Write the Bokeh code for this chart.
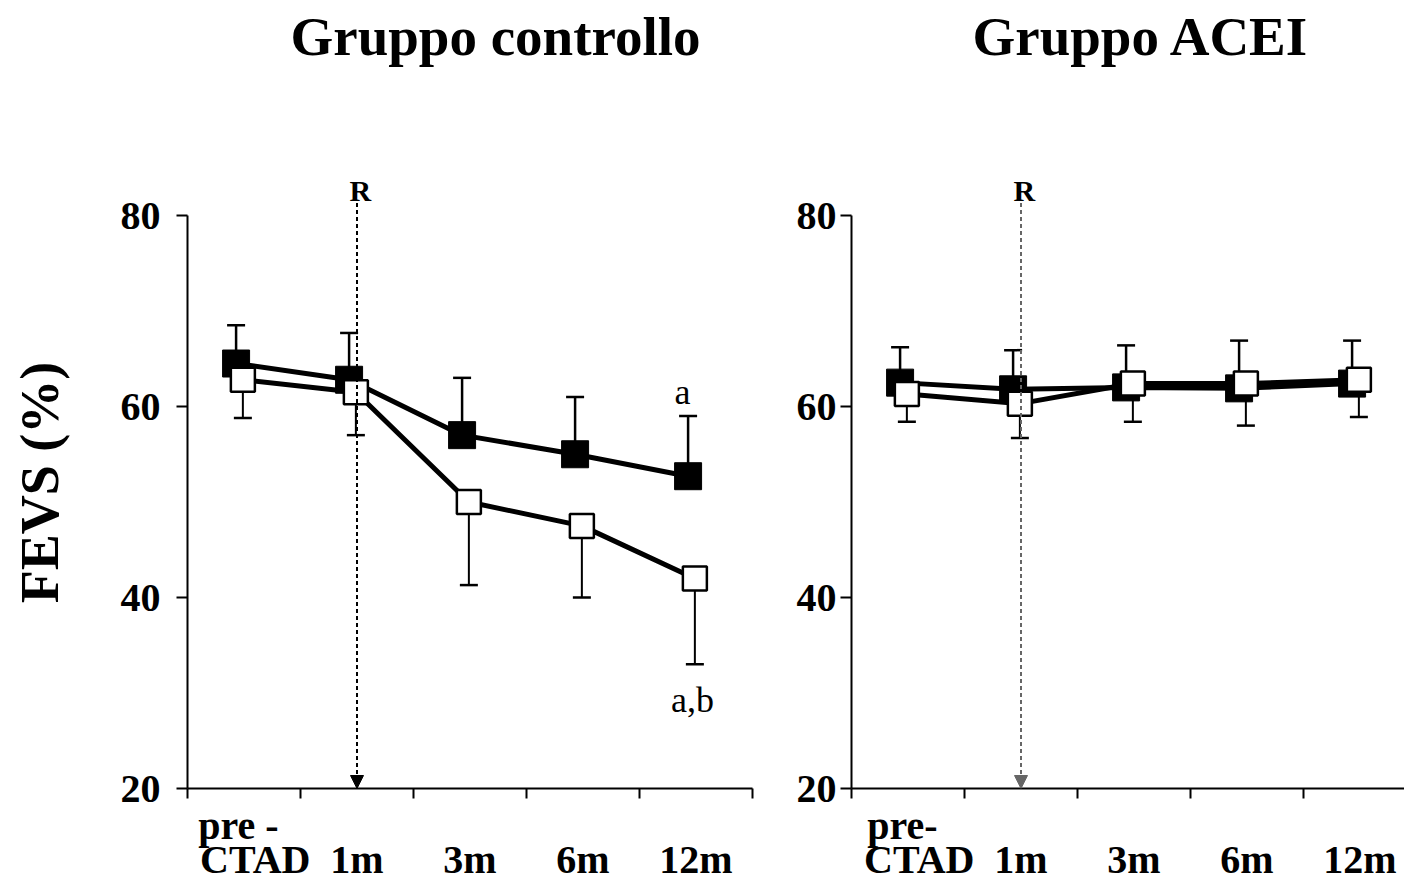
from bokeh.plotting import figure
from bokeh.layouts import row, column
from bokeh.models import Range1d, FixedTicker, LinearAxis, Arrow, NormalHead
from bokeh.core.properties import value
from bokeh.embed import file_html
from bokeh.resources import INLINE

# ---------------- data ----------------
categories = ["pre-CTAD", "1m", "3m", "6m", "12m"]
cat_pos = [0.5, 1.5, 2.5, 3.5, 4.5]
y_ticks = [20, 40, 60, 80]

ctrl_black = [64.5, 62.8, 57.0, 55.0, 52.7]
ctrl_black_up = [68.5, 67.7, 63.0, 61.0, 59.0]
ctrl_white = [62.8, 61.5, 50.0, 47.5, 42.0]
ctrl_white_down = [58.8, 57.0, 41.3, 40.0, 33.0]

acei_black = [62.5, 61.8, 62.0, 61.9, 62.4]
acei_black_up = [66.2, 65.9, 66.4, 66.9, 66.9]
acei_white = [61.3, 60.3, 62.4, 62.4, 62.8]
acei_white_down = [58.4, 56.7, 58.4, 58.0, 58.9]

titles = ["Gruppo controllo", "Gruppo ACEI"]
pre_labels = ["pre -", "pre-"]
sig_labels = ["a", "a,b"]
r_label = "R"
r_pos = 1.5

FONT = "Liberation Serif"
PXU = 573 / 60.0  # px per y unit
XU = 113.0       # px per x unit
FRAME_H = 612
Y_TOP = 20 + FRAME_H / PXU
TITLE_H = 80


def make_title(text, frame_w, border_left, border_right, title_offset):
    t = figure(frame_width=frame_w, height=TITLE_H,
               output_backend="svg", toolbar_location=None,
               x_axis_location=None, y_axis_location=None,
               min_border_left=border_left, min_border_right=border_right,
               min_border_top=0, min_border_bottom=0, title=text)
    t.outline_line_color = None
    t.xgrid.visible = False
    t.ygrid.visible = False
    t.title.text_font = FONT
    t.title.text_font_style = "bold"
    t.title.text_font_size = "55px"
    t.title.align = "left"
    t.title.offset = title_offset
    t.title.vertical_align = "top"
    t.title.standoff = 10
    t.title.text_color = "black"
    return t


def make_panel(black, black_up, white, white_down, pre_label,
               frame_w, x_end, border_left, border_right,
               dash_color, ylab, tick_standoff, sig=False):
    p = figure(frame_width=frame_w, frame_height=FRAME_H,
               x_range=Range1d(0, x_end), y_range=Range1d(20, Y_TOP),
               output_backend="svg", toolbar_location=None,
               x_axis_location=None,
               min_border_left=border_left, min_border_right=border_right,
               min_border_top=176 - TITLE_H, min_border_bottom=0)
    p.outline_line_color = None
    p.xgrid.visible = False
    p.ygrid.visible = False
    p.background_fill_color = "white"
    p.border_fill_color = "white"

    ya = p.yaxis[0]
    ya.ticker = FixedTicker(ticks=y_ticks)
    ya.bounds = (20, 80)
    ya.major_tick_out = 11
    ya.major_tick_in = 0
    ya.minor_tick_out = 0
    ya.minor_tick_in = 0
    ya.axis_line_width = 2
    ya.major_tick_line_width = 2
    ya.major_label_text_font = FONT
    ya.major_label_text_font_style = "bold"
    ya.major_label_text_font_size = "40px"
    ya.major_label_text_color = "black"
    ya.major_label_standoff = tick_standoff
    if ylab:
        ya.axis_label = ylab
        ya.axis_label_text_font = FONT
        ya.axis_label_text_font_style = "bold"
        ya.axis_label_text_font_size = "54px"
        ya.axis_label_text_color = "black"
        ya.axis_label_standoff = 48

    # axis A: line, boundary ticks, upper line of first label
    pre_x = 0.45
    ax_a = LinearAxis(ticker=FixedTicker(ticks=[pre_x], minor_ticks=[0, 1, 2, 3, 4, 5]))
    ax_a.major_label_overrides = {pre_x: pre_label}
    ax_a.major_tick_out = 0
    ax_a.major_tick_in = 0
    ax_a.minor_tick_out = 10
    ax_a.minor_tick_in = 0
    ax_a.minor_tick_line_width = 2
    ax_a.axis_line_width = 2
    ax_a.major_label_standoff = 4
    ax_a.major_label_text_font = FONT
    ax_a.major_label_text_font_style = "bold"
    ax_a.major_label_text_font_size = "40px"
    ax_a.major_label_text_color = "black"
    p.add_layout(ax_a, "below")

    # axis B: category labels
    b_ticks = [0.6] + cat_pos[1:]
    b_labels = ["CTAD"] + categories[1:]
    ax_b = LinearAxis(ticker=FixedTicker(ticks=b_ticks, minor_ticks=[]))
    ax_b.major_label_overrides = {t: l for t, l in zip(b_ticks, b_labels)}
    ax_b.axis_line_color = None
    ax_b.major_tick_line_color = None
    ax_b.minor_tick_line_color = None
    ax_b.major_tick_out = 0
    ax_b.major_tick_in = 0
    ax_b.major_label_standoff = -14
    ax_b.major_label_text_font = FONT
    ax_b.major_label_text_font_style = "bold"
    ax_b.major_label_text_font_size = "40px"
    ax_b.major_label_text_color = "black"
    p.add_layout(ax_b, "below")

    xb = [c - 0.07 for c in cat_pos]
    xw = [c - 0.01 for c in cat_pos]

    # error bars
    p.segment(x0=xb, y0=black, x1=xb, y1=black_up, line_color="black", line_width=2.5)
    p.dash(x=xb, y=black_up, size=18, line_color="black", line_width=2.5, angle=0)
    p.segment(x0=xw, y0=white, x1=xw, y1=white_down, line_color="black", line_width=2)
    p.dash(x=xw, y=white_down, size=18, line_color="black", line_width=2.5, angle=0)

    # dashed R arrow
    p.add_layout(Arrow(x_start=r_pos, y_start=81.3, x_end=r_pos, y_end=20,
                       line_color=dash_color, line_width=2, line_dash="4 3",
                       end=NormalHead(size=13, fill_color=dash_color,
                                      line_color=dash_color, line_width=1)))
    p.text(x=[r_pos + 0.03], y=[82.6], text=[r_label], text_align="center",
           text_baseline="middle", text_font=value(FONT),
           text_font_style="bold", text_font_size="30px", text_color="black")

    # lines
    p.line(xb, black, line_color="black", line_width=5)
    p.line(xw, white, line_color="black", line_width=5)

    # markers
    p.scatter(xb, black, marker="square", size=27, fill_color="black",
              line_color="black", line_width=1)
    p.scatter(xw, white, marker="square", size=24, fill_color="white",
              line_color="black", line_width=2.5)

    if sig:
        p.text(x=[xb[-1] - 0.05], y=[black_up[-1] + 2.5], text=[sig_labels[0]],
               text_align="center", text_baseline="middle",
               text_font=value(FONT), text_font_size="36px", text_color="black")
        p.text(x=[xw[-1] - 0.02], y=[white_down[-1] - 3.7], text=[sig_labels[1]],
               text_align="center", text_baseline="middle",
               text_font=value(FONT), text_font_size="36px", text_color="black")
    return p


t1 = make_title(titles[0], 565, 187, 18, 103)
t2 = make_title(titles[1], 553, 81, 0, 121)
p1 = make_panel(ctrl_black, ctrl_black_up, ctrl_white, ctrl_white_down,
                pre_labels[0], 565, 5.0, 187, 18, "black", "FEVS (%)", 16, sig=True)
p2 = make_panel(acei_black, acei_black_up, acei_white, acei_white_down,
                pre_labels[1], 553, 553 / XU, 81, 0, "#666666", None, 4)

layout = column(row(t1, t2), row(p1, p2))
open("out.html", "w").write(file_html(layout, INLINE))
